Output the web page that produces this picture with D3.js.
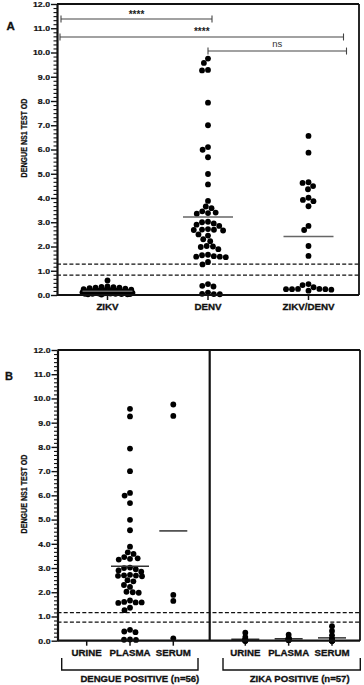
<!DOCTYPE html>
<html><head><meta charset="utf-8">
<script src="https://cdn.jsdelivr.net/npm/d3@7"></script>
<style>body{margin:0;background:#fff}svg{display:block}</style>
</head><body><svg id="c" width="364" height="685"></svg>
<script>
// ---------- DATA ----------
const catsA = ["ZIKV", "DENV", "ZIKV/DENV"];
const zikvA = [0.60,0.35,0.33,0.32,0.30,0.30,0.28,0.26,0.24,0.22,0.20,0.20,0.18,0.18,0.16,0.15,0.15,0.13,0.12,0.12,0.11,0.10,0.10,0.10,0.09,0.08,0.08,0.07,0.06,0.06,0.05,0.05,0.05,0.04,0.04,0.03,0.03,0.02];
const denvA = [9.75,9.57,9.28,9.26,7.93,7.00,6.10,5.99,5.68,4.99,4.56,3.88,3.65,3.58,3.45,3.40,3.38,3.35,3.02,3.00,2.95,2.90,2.85,2.72,2.70,2.69,2.68,2.66,2.50,2.45,2.30,2.22,2.02,2.00,1.98,1.89,1.66,1.64,1.60,1.58,1.58,1.56,1.36,1.26,0.45,0.38,0.35,0.10,0.05,0.04,0.03];
const zikvDenvA = [6.56,5.87,4.65,4.62,4.49,4.36,4.01,3.92,3.87,3.66,2.85,2.68,2.02,1.61,0.45,0.41,0.32,0.25,0.25,0.24,0.24,0.24,0.22,0.18];
const cutoffsA = [1.27, 0.82];
const sigLabels = ["****", "****", "ns"];
const sigLevels = [11.38, 10.64, 10.06];

const catsB = ["URINE", "PLASMA", "SERUM"];
const dengueUrine = [];
const denguePlasma = [9.57,9.26,7.93,7.00,6.10,5.99,5.68,4.99,4.56,3.88,3.65,3.58,3.45,3.40,3.38,3.35,3.02,3.00,2.95,2.90,2.85,2.72,2.70,2.69,2.68,2.66,2.50,2.45,2.30,2.22,2.02,2.00,1.98,1.66,1.60,1.58,1.58,1.56,1.36,1.26,0.45,0.38,0.35,0.05,0.04,0.03];
const dengueSerum = [9.75,9.28,1.89,1.64,0.10];
const zikaUrine = [0.33,0.15,0.05,0.03,0.02,0.01,0.01,0.00,0.00,0.00];
const zikaPlasma = [0.25,0.12,0.10,0.08,0.06,0.05,0.05,0.04,0.03,0.02];
const zikaSerum = [0.60,0.40,0.22,0.08,0.05,0.03,0.02,0.00,0.00,0.00,0.00,0.00];
const cutoffsB = [1.16, 0.77];
const groupLabels = ["DENGUE POSITIVE (n=56)", "ZIKA POSITIVE (n=57)"];
const yTicks = d3.range(0, 13, 1);
const yLabel = "DENGUE NS1 TEST OD";

// ---------- DRAW ----------
const svg = d3.select("#c");
const FONT = "'Liberation Sans', Arial, Helvetica, sans-serif";
const R = 2.9;
const BOLDSTROKE = 0.3;

function swarm(values, r, maxHalf, y) {
  const pts = values.map(v => ({v, y: y(v)})).sort((a, b) => a.y - b.y);
  const placed = [], D = 2 * r + 0.2;
  pts.forEach(p => {
    const near = placed.filter(q => Math.abs(q.y - p.y) < D);
    const iv = near.map(q => { const h = Math.sqrt(D * D - (q.y - p.y) ** 2); return [q.dx - h, q.dx + h]; });
    let c = [0]; iv.forEach(([a, b]) => c.push(a, b));
    c = c.filter(x => Math.abs(x) <= maxHalf + 1e-9 && !iv.some(([a, b]) => x > a + 1e-6 && x < b - 1e-6));
    c.sort((a, b) => Math.abs(a) - Math.abs(b) || a - b);
    let dx = 0;
    if (c.length) dx = c[0];
    else if (maxHalf > 0) {
      let best = -1;
      for (let x = -maxHalf; x <= maxHalf + 1e-9; x += 0.5) {
        const md = d3.min(near, q => Math.hypot(q.dx - x, q.y - p.y));
        if (md > best) { best = md; dx = x; }
      }
    }
    p.dx = dx; placed.push(p);
  });
  return placed;
}

function boldify(sel) {
  return sel.attr("font-family", FONT).attr("font-weight", "bold").attr("fill", "#111")
    .attr("stroke", "#111").attr("stroke-width", BOLDSTROKE);
}

function yAxis(g, y, x0) {
  const minor = d3.range(0, 12, 1 / 6).filter((v, i) => i % 6 !== 0);
  g.append("g").attr("transform", `translate(${x0},0)`)
    .call(d3.axisLeft(y).tickValues(minor).tickSize(3.5).tickFormat(""))
    .call(s => s.select(".domain").remove())
    .call(s => s.selectAll("line").attr("stroke", "#111").attr("stroke-width", 1.1));
  const ax = g.append("g").attr("transform", `translate(${x0},0)`)
    .call(d3.axisLeft(y).tickValues(yTicks).tickSize(6).tickFormat(d3.format(".1f")).tickSizeOuter(0));
  ax.select(".domain").attr("stroke", "#111").attr("stroke-width", 2.2);
  ax.selectAll("line").attr("stroke", "#111").attr("stroke-width", 1.4);
  ax.selectAll("text").each(function () {
    const t = d3.select(this);
    t.attr("x", null).attr("dy", "0.34em")
      .attr("transform", "translate(-7,0) scale(1.25,1)")
      .attr("font-size", 7);
    boldify(t).attr("stroke-width", 0.2);
  });
}

function yTitle(cx, cy) {
  boldify(svg.append("text").attr("transform", `translate(${cx},${cy}) scale(1.3,1) rotate(-90)`)
    .attr("text-anchor", "middle").attr("dy", "0.35em").attr("font-size", 7.1))
    .attr("stroke-width", 0.2).text(yLabel);
}

function hline(g, x1, x2, yv, opts) {
  g.append("line").attr("x1", x1).attr("x2", x2).attr("y1", yv).attr("y2", yv)
    .attr("stroke", opts.c || "#111").attr("stroke-width", opts.w || 1.2)
    .attr("stroke-dasharray", opts.dash || null);
}

function dots(g, values, xc, y, maxHalf) {
  g.append("g").selectAll("circle").data(swarm(values, R, maxHalf, y)).join("circle")
    .attr("cx", d => xc + d.dx).attr("cy", d => d.y).attr("r", R).attr("fill", "#000");
}

function meanLine(g, values, xc, y, half, color) {
  if (!values.length) return;
  hline(g, xc - half, xc + half, y(d3.mean(values)), {c: color, w: 1.5});
}

function catLabel(x, yb, txt, size, sx) {
  boldify(svg.append("text").attr("transform", `translate(${x},${yb}) scale(${sx},1)`)
    .attr("text-anchor", "middle").attr("font-size", size)).text(txt);
}

// ===== Panel A =====
const AL = 57, AR = 359, AT = 4, AB = 295;
const yA = d3.scaleLinear([0, 12], [AB, AT]);
const xA = d3.scalePoint(catsA, [107.5, 308.5]);
const gA = svg.append("g");

cutoffsA.forEach(v => hline(gA, AL, AR, yA(v), {dash: "4,2.2", w: 1.2}));

// significance bars
const sigX = [[AL + 4, xA("DENV") + 4], [AL + 3, xA("ZIKV/DENV") + 35], [xA("DENV"), xA("ZIKV/DENV") + 38]];
sigX.forEach(([x1, x2], i) => {
  const yy = yA(sigLevels[i]);
  hline(gA, x1, x2, yy, {c: "#444", w: 1.1});
  [x1, x2].forEach(x => gA.append("line").attr("x1", x).attr("x2", x).attr("y1", yy - 3.5).attr("y2", yy + 3.5).attr("stroke", "#444").attr("stroke-width", 1.1));
  const isNs = sigLabels[i] === "ns";
  gA.append("text").attr("x", (x1 + x2) / 2).attr("y", isNs ? yy - 4 : yy - 1.5)
    .attr("text-anchor", "middle").attr("font-family", FONT)
    .attr("font-weight", isNs ? "normal" : "bold").attr("font-size", isNs ? 9.5 : 10)
    .attr("fill", isNs ? "#333" : "#222").text(sigLabels[i]);
});

// frame
hline(gA, AL, AR, AT, {w: 1.8});
gA.append("line").attr("x1", AR).attr("x2", AR).attr("y1", AT).attr("y2", AB).attr("stroke", "#111").attr("stroke-width", 1.8);

const seriesA = [zikvA, denvA, zikvDenvA];
const halfA = [25, 23, 23];
seriesA.forEach((vals, i) => {
  const xc = xA(catsA[i]);
  gA.append("line").attr("x1", xc).attr("x2", xc).attr("y1", AB).attr("y2", AB + 5).attr("stroke", "#111").attr("stroke-width", 1.5);
  dots(gA, vals, xc, yA, halfA[i]);
  meanLine(gA, vals, xc, yA, 25, "#666");
  catLabel(xc, 310, catsA[i], 9.3, 1.05);
});
hline(gA, AL, AR, AB, {w: 2.2});
yAxis(gA, yA, AL);
yTitle(24, 138);
boldify(svg.append("text").attr("x", 6.5).attr("y", 30).attr("font-size", 11.5)).text("A");

// ===== Panel B =====
const BL = 57.5, BR = 360, BT = 350, BB = 640.7, BD = 209.7;
const yB = d3.scaleLinear([0, 12], [BB, BT]);
const xBd = d3.scalePoint(catsB, [86.7, 173.3]);
const xBz = d3.scalePoint(catsB, [245.3, 332]);
const gB = svg.append("g");

cutoffsB.forEach(v => hline(gB, BL, BR, yB(v), {dash: "4,2.2", w: 1.2}));
hline(gB, BL, BR, BT, {w: 1.8});
gB.append("line").attr("x1", BR).attr("x2", BR).attr("y1", BT).attr("y2", BB).attr("stroke", "#111").attr("stroke-width", 1.8);
gB.append("line").attr("x1", BD).attr("x2", BD).attr("y1", BT).attr("y2", BB).attr("stroke", "#111").attr("stroke-width", 2.2);

const dengueB = [dengueUrine, denguePlasma, dengueSerum];
const zikaB = [zikaUrine, zikaPlasma, zikaSerum];
const halfDB = [0, 12, 0], lineDB = [14, 19, 14];
dengueB.forEach((vals, i) => {
  const xc = xBd(catsB[i]);
  gB.append("line").attr("x1", xc).attr("x2", xc).attr("y1", BB).attr("y2", BB + 5).attr("stroke", "#111").attr("stroke-width", 1.5);
  dots(gB, vals, xc, yB, halfDB[i]);
  meanLine(gB, vals, xc, yB, lineDB[i], "#333");
  catLabel(xc, 655.5, catsB[i], 9, 1.08);
});
zikaB.forEach((vals, i) => {
  const xc = xBz(catsB[i]);
  gB.append("line").attr("x1", xc).attr("x2", xc).attr("y1", BB).attr("y2", BB + 5).attr("stroke", "#111").attr("stroke-width", 1.5);
  meanLine(gB, vals, xc, yB, 14, "#333");
  dots(gB, vals, xc, yB, 0);
  catLabel(xc, 655.5, catsB[i], 9, 1.08);
});
hline(gB, BL, BR, BB, {w: 2.2});
yAxis(gB, yB, BL);
yTitle(24, 494);
boldify(svg.append("text").attr("x", 5).attr("y", 379.5).attr("font-size", 11)).text("B");

// group brackets
const brackets = [[61.7, 198], [223, 360.3]];
brackets.forEach(([x1, x2], i) => {
  svg.append("path").attr("d", `M${x1},658 V670 H${x2} V658`).attr("fill", "none").attr("stroke", "#111").attr("stroke-width", 1.4);
  catLabel((x1 + x2) / 2 + (i === 0 ? 10 : 8), 681.5, groupLabels[i], 9.3, 1.03);
});
</script></body></html>
